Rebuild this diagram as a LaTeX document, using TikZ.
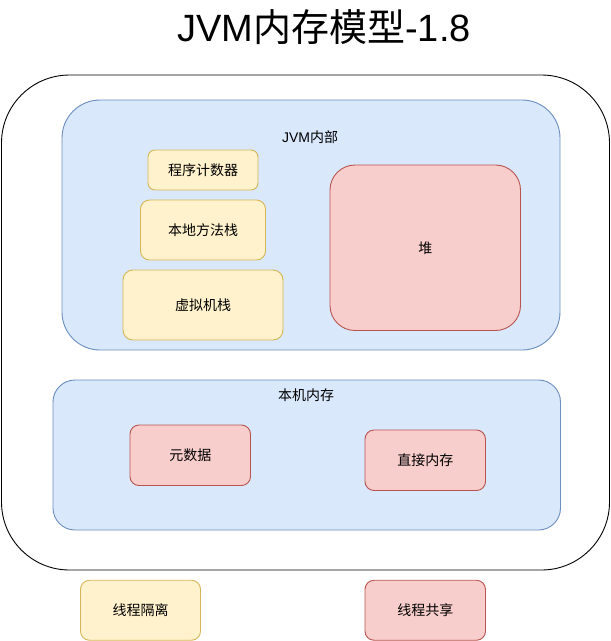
\documentclass[tikz,border=0pt]{standalone}
\usepackage{fontspec}
\setmainfont{Liberation Sans}
\newfontfamily\cjk{Noto Sans CJK SC}
\definecolor{bluefill}{HTML}{DAE8FC}
\definecolor{bluedraw}{HTML}{6C8EBF}
\definecolor{yelfill}{HTML}{FFF2CC}
\definecolor{yeldraw}{HTML}{D6B656}
\definecolor{redfill}{HTML}{F8CECC}
\definecolor{reddraw}{HTML}{B85450}
\begin{document}
\begin{tikzpicture}[x=1pt,y=-1pt,
  every node/.style={inner sep=0pt, outer sep=0pt},
  boxbase/.style={draw, line width=0.9pt, rectangle},
  bluebox/.style={boxbase, fill=bluefill, draw=bluedraw},
  yelbox/.style={boxbase, fill=yelfill, draw=yeldraw},
  redbox/.style={boxbase, fill=redfill, draw=reddraw},
  txt/.style={font=\fontsize{14}{16}\selectfont},
  cjktxt/.style={font=\cjk\fontsize{14}{16}\selectfont},
  titletxt/.style={font=\fontsize{38}{42}\selectfont}
]
\useasboundingbox (0,0) rectangle (611,641);
% title
\node[titletxt] (title) at (324,27) {JVM{\cjk 内存模型}-1.8};
% outer container
\node[boxbase, draw=black, fill=white, rounded corners=68pt, minimum width=608pt, minimum height=495pt] (outer) at (305.5,322.5) {};
% JVM internal
\node[bluebox, rounded corners=38pt, minimum width=498pt, minimum height=250pt] (jvm) at (311,225) {};
\node[txt] (jvmlabel) at (310,137) {JVM{\cjk 内部}};
\node[yelbox, cjktxt, rounded corners=7pt, minimum width=110pt, minimum height=40pt] (pc) at (203,170) {程序计数器};
\node[yelbox, cjktxt, rounded corners=9pt, minimum width=125pt, minimum height=60pt] (native) at (203,230) {本地方法栈};
\node[yelbox, cjktxt, rounded corners=10pt, minimum width=160pt, minimum height=70pt] (vmstack) at (203,305) {虚拟机栈};
\node[redbox, cjktxt, rounded corners=25pt, minimum width=190.5pt, minimum height=165.5pt] (heap) at (425.25,247.75) {堆};
% native memory
\node[bluebox, rounded corners=22pt, minimum width=507.5pt, minimum height=150pt] (nmem) at (306.75,455) {};
\node[cjktxt] (nmemlabel) at (306,395) {本机内存};
\node[redbox, cjktxt, rounded corners=9pt, minimum width=120.5pt, minimum height=60.5pt] (meta) at (190.25,455.25) {元数据};
\node[redbox, cjktxt, rounded corners=9pt, minimum width=120.5pt, minimum height=60.5pt] (direct) at (425.25,460.25) {直接内存};
% legend
\node[yelbox, cjktxt, rounded corners=9pt, minimum width=120pt, minimum height=60pt] (iso) at (140.5,610.25) {线程隔离};
\node[redbox, cjktxt, rounded corners=9pt, minimum width=120.5pt, minimum height=60pt] (share) at (425.25,610.25) {线程共享};
\end{tikzpicture}
\end{document}
